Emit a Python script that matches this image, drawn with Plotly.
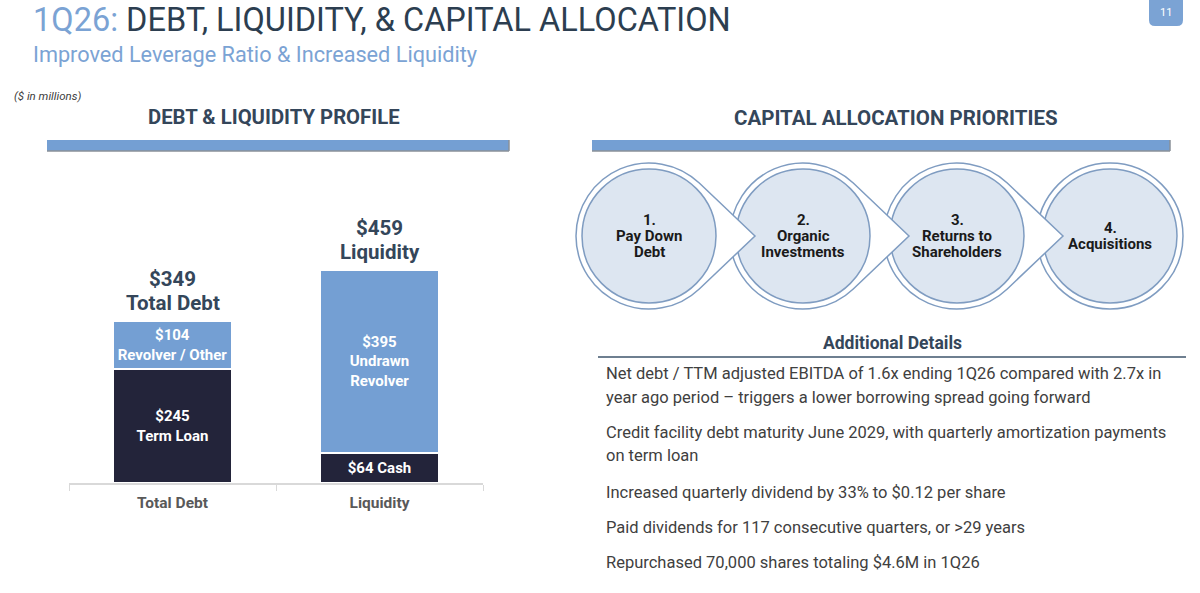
import math
import plotly.graph_objects as go

W, H = 1200, 593

# ---- data ($ in millions) ----
categories = ["Total Debt", "Liquidity"]
base_names = ["Term Loan", "Cash"]
base_values = [245, 64]
top_names = ["Revolver / Other", "Undrawn<br>Revolver"]
top_values = [104, 395]

priorities = [["1.", "Pay Down", "Debt"], ["2.", "Organic", "Investments"],
              ["3.", "Returns to", "Shareholders"], ["4.", "Acquisitions"]]

details = [
    ["Net debt / TTM adjusted EBITDA of 1.6x ending 1Q26 compared with 2.7x in",
     "year ago period \u2013 triggers a lower borrowing spread going forward"],
    ["Credit facility debt maturity June 2029, with quarterly amortization payments",
     "on term loan"],
    ["Increased quarterly dividend by 33% to $0.12 per share"],
    ["Paid dividends for 117 consecutive quarters, or >29 years"],
    ["Repurchased 70,000 shares totaling $4.6M in 1Q26"],
]

NAVY = '#23243a'; LBLUE = '#749fd3'; TITLE = '#2c3e50'; SUB = '#7ba3d4'
HEAD = '#34465a'; GREY = '#595959'; TXT = '#404040'
CFILL = '#dde6f1'; CLINE = '#7f9cc1'
FONT = 'Roboto'

base_text = [f"<b>${base_values[0]}<br>{base_names[0]}</b>",
             f"<b>${base_values[1]} {base_names[1]}</b>"]
top_text = [f"<b>${v}<br>{n}</b>" for v, n in zip(top_values, top_names)]
totals = [b + t for b, t in zip(base_values, top_values)]

fig = go.Figure()
fig.add_trace(go.Bar(x=categories, y=base_values, marker_color=NAVY, width=0.575,
                     marker_line=dict(color='white', width=2.5),
                     text=base_text, textposition='inside', insidetextanchor='middle',
                     constraintext='none', textfont=dict(color='white', size=15, family=FONT),
                     hoverinfo='skip'))
fig.add_trace(go.Bar(x=categories, y=top_values, marker_color=LBLUE, width=0.575,
                     marker_line=dict(color='white', width=2.5),
                     text=top_text, textposition='inside', insidetextanchor='middle',
                     constraintext='none', textfont=dict(color='white', size=15, family=FONT),
                     hoverinfo='skip'))
# invisible trace so the pixel canvas axes exist
fig.add_trace(go.Scatter(x=[], y=[], xaxis='x2', yaxis='y2', showlegend=False))

ann = []
for c, t in zip(categories, totals):
    ann.append(dict(x=c, y=t, xref='x', yref='y', yanchor='middle', yshift=18, showarrow=False,
                    text=f"<b>{c}</b>", font=dict(size=20.5, color=HEAD, family=FONT)))
    ann.append(dict(x=c, y=t, xref='x', yref='y', yanchor='middle', yshift=42, showarrow=False,
                    text=f"<b>${t}</b>", font=dict(size=20.5, color=HEAD, family=FONT)))

def txt(x, y, s, size, color, xanchor='center', bold=False, italic=False):
    if bold: s = f"<b>{s}</b>"
    if italic: s = f"<i>{s}</i>"
    ann.append(dict(x=x, y=y, xref='x2', yref='y2', xanchor=xanchor, yanchor='middle',
                    showarrow=False, text=s, font=dict(size=size, color=color, family=FONT)))

txt(31, 20, f"<span style='color:{SUB}'>1Q26:</span> DEBT, LIQUIDITY, & CAPITAL ALLOCATION",
    32.5, TITLE, 'left')
txt(31, 54, "Improved Leverage Ratio & Increased Liquidity", 21.7, SUB, 'left')
txt(12, 96, "($ in millions)", 11.5, TXT, 'left', italic=True)
txt(274, 117, "DEBT & LIQUIDITY PROFILE", 20.3, HEAD, bold=True)
txt(896, 118, "CAPITAL ALLOCATION PRIORITIES", 20.5, HEAD, bold=True)
txt(892, 343, "Additional Details", 17.5, HEAD, bold=True)
txt(1166, 12, "11", 11, 'white')

line_y = [[373, 397], [432, 455], [492], [527], [562]]
for block, ys in zip(details, line_y):
    for s, y in zip(block, ys):
        txt(604, y, s, 16.5, TXT, 'left')

shapes = []
def S(**k):
    k.setdefault('xref', 'x2'); k.setdefault('yref', 'y2'); shapes.append(k)

# section header bars
for x0, x1 in [(47, 509), (592, 1170)]:
    S(type='rect', x0=x0, x1=x1, y0=140, y1=151, fillcolor=LBLUE, line=dict(width=0))
    S(type='line', x0=x0, x1=x1, y0=151, y1=151, line=dict(color='#8a9099', width=1.5))
    S(type='line', x0=x1, x1=x1, y0=140, y1=151, line=dict(color='#8a9099', width=1.5))
S(type='line', x0=598, x1=1186, y0=357, y1=357, line=dict(color='#6e7f90', width=2))
# page badge
S(type='path', path="M1149,-2 L1183,-2 L1183,20 Q1183,26 1177,26 L1155,26 Q1149,26 1149,20 Z",
  fillcolor=SUB, line=dict(width=0))

# priority circles (teardrop pointing to the next step)
cxs = [649, 803, 957, 1110]; cy = 236; R = 73; r = 67; tip = 106

def teardrop(cx):
    a = math.acos(R / tip)
    p = lambda f: (cx + R * math.cos(f), cy - R * math.sin(f))
    d = lambda f: (-math.sin(f), -math.cos(f))
    n = 4; th = (2 * math.pi - 2 * a) / n; k = 4 / 3 * math.tan(th / 4)
    x0, y0 = p(a)
    s = f"M{cx + tip},{cy} L{x0:.2f},{y0:.2f}"
    for i in range(n):
        f0 = a + i * th; f1 = f0 + th
        P0 = p(f0); P3 = p(f1); d0 = d(f0); d1 = d(f1)
        P1 = (P0[0] + k * R * d0[0], P0[1] + k * R * d0[1])
        P2 = (P3[0] - k * R * d1[0], P3[1] - k * R * d1[1])
        s += f" C{P1[0]:.2f},{P1[1]:.2f} {P2[0]:.2f},{P2[1]:.2f} {P3[0]:.2f},{P3[1]:.2f}"
    return s + " Z"

for i in reversed(range(len(priorities))):
    cx = cxs[i]
    if i < len(priorities) - 1:
        S(type='path', path=teardrop(cx), fillcolor='white', line=dict(color=CLINE, width=1.5))
    else:
        S(type='circle', x0=cx - R, x1=cx + R, y0=cy - R, y1=cy + R, fillcolor='white',
          line=dict(color=CLINE, width=1.5))
    S(type='circle', x0=cx - r, x1=cx + r, y0=cy - r, y1=cy + r, fillcolor=CFILL,
      line=dict(color=CLINE, width=1.5))

for cx, lines in zip(cxs, priorities):
    y0 = cy - 16 * (len(lines) - 1) / 2
    for j, s in enumerate(lines):
        txt(cx, y0 + 16 * j, s, 15, '#1a1a1a', bold=True)

fig.update_layout(
    width=W, height=H, margin=dict(l=0, r=0, t=0, b=0), barmode='stack',
    paper_bgcolor='white', plot_bgcolor='rgba(0,0,0,0)', showlegend=False,
    font=dict(family=FONT), shapes=shapes, annotations=ann,
    xaxis=dict(domain=[69 / W, 483 / W], range=[-0.5, 1.5], showline=True, linecolor='#d9d9d9',
               linewidth=1.5, ticks='outside', tickson='boundaries', ticklen=6, tickcolor='#d9d9d9',
               tickvals=categories, ticktext=[f"<b>{c}</b>" for c in categories],
               ticklabelstandoff=5,
               tickfont=dict(size=15.5, color=GREY, family=FONT), fixedrange=True),
    yaxis=dict(domain=[1 - 483 / H, 1 - 200 / H], range=[0, 283 / 0.465], visible=False,
               fixedrange=True),
    xaxis2=dict(domain=[0, 1], range=[0, W], visible=False, anchor='y2', fixedrange=True),
    yaxis2=dict(domain=[0, 1], range=[H, 0], visible=False, anchor='x2', fixedrange=True),
)
fig.write_html("out.html", config={'displayModeBar': False},
               post_script="document.body.style.margin='0';")
